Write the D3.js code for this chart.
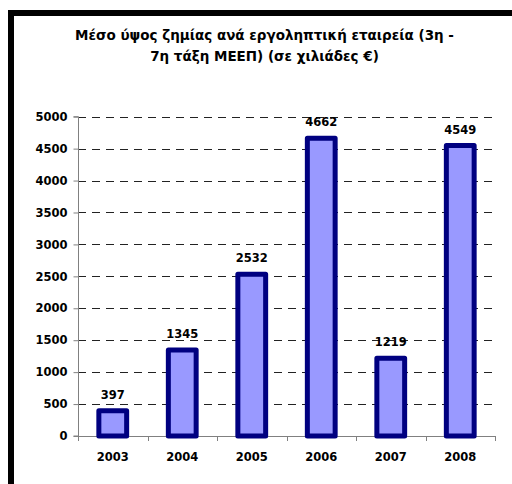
<!DOCTYPE html>
<html>
<head>
<meta charset="utf-8">
<script src="https://cdn.jsdelivr.net/npm/d3@7"></script>
<style>
  html, body { margin: 0; background: #fff; overflow: hidden; }
  svg { display: block; }
  text { font-family: "DejaVu Sans", Verdana, sans-serif; font-weight: bold; fill: #000; }
</style>
</head>
<body>
<script>
var width = 512,
    height = 484;

// data
var years = ["2003", "2004", "2005", "2006", "2007", "2008"];
var losses = [397, 1345, 2532, 4662, 1219, 4549];
var yTicks = [0, 500, 1000, 1500, 2000, 2500, 3000, 3500, 4000, 4500, 5000];
var titleLines = ["Μέσο ύψος ζημίας ανά εργοληπτική εταιρεία (3η -",
                  "7η τάξη ΜΕΕΠ) (σε χιλιάδες €)"];

var svg = d3.select("body").append("svg")
    .attr("width", width)
    .attr("height", height);

// frame: only the left and top edges fall inside the picture
svg.append("path")
    .attr("d", "M11," + height + "V13H" + width)
    .attr("fill", "none")
    .attr("stroke", "#000")
    .attr("stroke-width", 6);

var title = svg.append("g");
var titleText = title.selectAll("text")
    .data(titleLines)
  .enter().append("text")
    .attr("x", 264.5)
    .attr("y", function(d, i) { return 40 + i * 21; })
    .attr("text-anchor", "middle")
    .style("font-size", "13px")
    .text(function(d) { return d; });

// fit the first title line to the width seen in the picture
var w0 = titleText.node().getComputedTextLength();
if (w0 > 0) {
  var fs = 13 * 379 / w0;
  titleText.style("font-size", fs + "px");
}

var x = d3.scaleBand()
    .domain(years)
    .range([78, 495])
    .paddingInner(0.6)
    .paddingOuter(0.3);

var y = d3.scaleLinear()
    .domain([0, 5000])
    .range([436, 116.7]);

// gridlines
svg.append("g")
  .selectAll("line")
    .data(yTicks.filter(function(d) { return d > 0; }))
  .enter().append("line")
    .attr("x1", 78)
    .attr("x2", 495)
    .attr("y1", function(d) { return Math.round(y(d)) + 0.5; })
    .attr("y2", function(d) { return Math.round(y(d)) + 0.5; })
    .attr("stroke", "#222")
    .attr("stroke-dasharray", "8,6");

// y axis
var yAxis = svg.append("g")
    .attr("transform", "translate(78.5,0)")
    .call(d3.axisLeft(y).tickValues(yTicks).tickFormat(d3.format("d")).tickSize(5).tickPadding(6));
yAxis.select(".domain").attr("stroke", "#808080").attr("d", "M-5," + y(5000) + "H0V" + y(0) + "H-5");
yAxis.selectAll(".tick line").attr("stroke", "#808080");
yAxis.selectAll(".tick text")
    .style("font-family", "'DejaVu Sans', sans-serif")
    .style("font-weight", "bold")
    .style("font-size", "11.5px")
    .attr("fill", "#000");

// x axis with ticks between categories
var xAxis = svg.append("g");
xAxis.append("line")
    .attr("x1", 78)
    .attr("x2", 495)
    .attr("y1", 436.5)
    .attr("y2", 436.5)
    .attr("stroke", "#808080");
xAxis.selectAll(".sep")
    .data(d3.range(years.length + 1))
  .enter().append("line")
    .attr("class", "sep")
    .attr("x1", function(i) { return Math.round(78 + i * x.step()) + 0.5; })
    .attr("x2", function(i) { return Math.round(78 + i * x.step()) + 0.5; })
    .attr("y1", 436)
    .attr("y2", 441)
    .attr("stroke", "#808080");
xAxis.selectAll(".lab")
    .data(years)
  .enter().append("text")
    .attr("class", "lab")
    .attr("x", function(d) { return x(d) + x.bandwidth() / 2; })
    .attr("y", 461)
    .attr("text-anchor", "middle")
    .style("font-size", "11.5px")
    .text(function(d) { return d; });

// bars
svg.append("g")
  .selectAll("rect")
    .data(losses)
  .enter().append("rect")
    .attr("x", function(d, i) { return x(years[i]); })
    .attr("y", function(d) { return y(d); })
    .attr("width", x.bandwidth())
    .attr("height", function(d) { return y(0) - y(d); })
    .attr("fill", "#9999ff")
    .attr("stroke", "#000080")
    .attr("stroke-width", 5)
    .attr("stroke-linejoin", "round");

// value labels
svg.append("g")
  .selectAll("text")
    .data(losses)
  .enter().append("text")
    .attr("x", function(d, i) { return x(years[i]) + x.bandwidth() / 2; })
    .attr("y", function(d) { return y(d) - 12; })
    .attr("text-anchor", "middle")
    .style("font-size", "11.5px")
    .text(function(d) { return d; });
</script>
</body>
</html>
